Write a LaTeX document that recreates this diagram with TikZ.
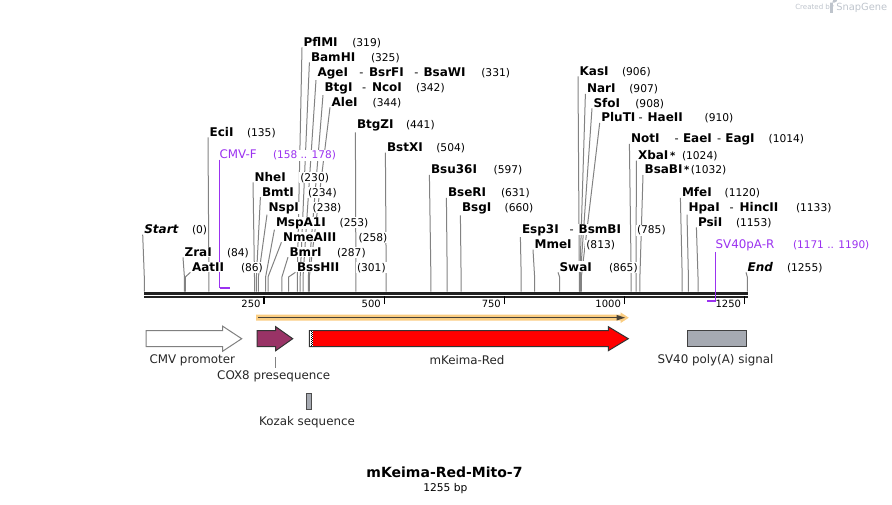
\documentclass[tikz,border=0pt]{standalone}
\usepackage{fontspec}
\setmainfont{DejaVu Sans}
\usetikzlibrary{arrows.meta}
\pgfdeclarelayer{bg}
\pgfsetlayers{bg,main}
\definecolor{cutgray}{RGB}{130,130,130}
\definecolor{primer}{RGB}{155,50,240}
\definecolor{orf}{RGB}{250,205,130}
\definecolor{orfdark}{RGB}{70,64,56}
\definecolor{cox}{RGB}{153,51,102}
\definecolor{polya}{RGB}{166,170,178}
\definecolor{bbone}{RGB}{34,34,34}
\definecolor{featline}{RGB}{51,51,51}
\definecolor{wm}{RGB}{190,196,204}
\tikzset{
  nm/.style={anchor=base west, inner xsep=1pt, inner ysep=0.6pt, fill=white, font=\fontsize{9}{10}\selectfont\bfseries},
  num/.style={anchor=base west, inner xsep=1pt, inner ysep=0.6pt, fill=white, font=\fontsize{8}{9}\selectfont},
  hyph/.style={anchor=base west, inner xsep=1pt, inner ysep=0.6pt, fill=white, font=\fontsize{8.5}{9}\selectfont},
  cut/.style={draw=cutgray, line width=0.75pt},
  feat/.style={draw=featline, line width=0.75pt},
  flabel/.style={inner sep=0pt, text=black!85, font=\fontsize{8.9}{10}\selectfont},
  plabel/.style={anchor=base west, inner xsep=1pt, inner ysep=0.6pt, fill=white, text=primer, font=\fontsize{8.9}{10}\selectfont},
  pnum/.style={anchor=base west, inner xsep=1pt, inner ysep=0.6pt, fill=white, text=primer, font=\fontsize{7.9}{9}\selectfont},
  ticklab/.style={anchor=east, inner sep=0pt, font=\fontsize{7.5}{9}\selectfont},
}
\newcommand{\astk}{\hspace{1.2pt}{\fontsize{7.6}{9}\selectfont *}}
% id, label x, label centre y, name, number x, number
\newcommand{\enz}[6]{\node[nm] (#1) at (#2-1.3,#3+4.4) {#4};\node[num] (#1n) at (#5-1.3,#3+4.4) {#6};}
% id, x, name, centre y
\newcommand{\xname}[4]{\node[nm] (#1) at (#2-1.3,#4+4.4) {#3};}
% id, x, centre y
\newcommand{\hy}[3]{\node[hyph] (#1) at (#2-1.3,#3+4.4) {-};}
% id, site x
\newcommand{\cutl}[2]{\draw[cut] (#2,291.5) -- (#2,277) -- (#1.south west);}
\begin{document}
\begin{tikzpicture}[x=0.75pt,y=-0.75pt]
\useasboundingbox (0,0) rectangle (892,504);

% ---------------- restriction site labels
\node[nm, font=\fontsize{9}{10}\selectfont\bfseries\itshape] (st) at (144-1.3,229+4.4) {Start};
\node[num] (stn) at (191.7-1.3,229+4.4) {(0)};
\enz{zra}{184.3}{251.7}{ZraI}{226.7}{(84)}
\enz{aat}{191.7}{266.7}{AatII}{240.7}{(86)}
\enz{eci}{209.3}{131.7}{EciI}{246.7}{(135)}
\enz{nhe}{254.3}{176.7}{NheI}{300}{(230)}
\enz{bmt}{261.7}{191.7}{BmtI}{307.7}{(234)}
\enz{nsp}{268.3}{206.7}{NspI}{312.3}{(238)}
\enz{msp}{275.7}{221.7}{MspA1I}{339.3}{(253)}
\enz{nme}{282.7}{236.7}{NmeAIII}{358.3}{(258)}
\enz{bmr}{289.3}{251.7}{BmrI}{336.7}{(287)}
\enz{bss}{296.7}{266.7}{BssHII}{356.7}{(301)}
\enz{pfl}{303.3}{42}{PflMI}{352}{(319)}
\enz{bam}{310.7}{56.7}{BamHI}{370.7}{(325)}
\enz{age}{317.3}{72}{AgeI}{481}{(331)}
\hy{ageh1}{359}{72}\xname{bsrf}{368.7}{BsrFI}{72}
\hy{ageh2}{414}{72}\xname{bsaw}{423.3}{BsaWI}{72}
\enz{btg}{324.3}{87}{BtgI}{415.7}{(342)}
\hy{btgh}{361.7}{87}\xname{nco}{371.7}{NcoI}{87}
\enz{ale}{331.3}{101.7}{AleI}{372.3}{(344)}
\enz{btgz}{356.7}{124.3}{BtgZI}{405.7}{(441)}
\enz{bstx}{386.7}{147}{BstXI}{436}{(504)}
\enz{bsu}{430.7}{169.3}{Bsu36I}{493.3}{(597)}
\enz{bser}{447.7}{192.3}{BseRI}{500.7}{(631)}
\enz{bsg}{461.7}{207.3}{BsgI}{504.3}{(660)}
\enz{esp}{521.7}{229.2}{Esp3I}{636.7}{(785)}
\hy{esph}{569.3}{229.2}\xname{bsmb}{578.3}{BsmBI}{229.2}
\enz{mme}{534.3}{244}{MmeI}{586}{(813)}
\enz{swa}{559.3}{266.7}{SwaI}{608.7}{(865)}
\enz{kas}{579.3}{70.7}{KasI}{621.7}{(906)}
\enz{nar}{586.7}{88.3}{NarI}{629}{(907)}
\enz{sfo}{593.3}{102.7}{SfoI}{635}{(908)}
\enz{plu}{601}{117.3}{PluTI}{704.3}{(910)}
\hy{pluh}{638.3}{117.3}\xname{hae}{647.3}{HaeII}{117.3}
\enz{not}{630.7}{138.3}{NotI}{768.3}{(1014)}
\hy{noth1}{674.3}{138.3}\xname{eae}{682.7}{EaeI}{138.3}
\hy{noth2}{716.7}{138.3}\xname{eag}{725}{EagI}{138.3}
\enz{xba}{637.7}{155}{XbaI\astk}{681.7}{(1024)}
\enz{bsab}{644.3}{169.3}{BsaBI\astk}{690.5}{(1032)}
\enz{mfe}{681.7}{192.3}{MfeI}{724.3}{(1120)}
\enz{hpa}{688.3}{206.7}{HpaI}{795.7}{(1133)}
\hy{hpah}{729.3}{206.7}\xname{hinc}{739.3}{HincII}{206.7}
\enz{psi}{697.7}{221.7}{PsiI}{735.7}{(1153)}
\node[nm, font=\fontsize{9}{10}\selectfont\bfseries\itshape] (en) at (747.3-1.3,266.7+4.4) {End};
\node[num] (enn) at (786.7-1.3,266.7+4.4) {(1255)};

% primer labels
\node[plabel] (cmvf) at (219.3-1.3,154+4.4) {CMV-F};
\node[pnum] (cmvfn) at (272.7-1.3,154+4.4) {(158 .. 178)};
\node[plabel] (svr) at (715.3-1.3,244+4.4) {SV40pA-R};
\node[pnum] (svrn) at (792.7-1.3,244+4.4) {(1171 .. 1190)};

% ---------------- connector lines (behind labels)
\begin{pgfonlayer}{bg}
\cutl{st}{144.3}
\cutl{zra}{184.4}
\cutl{aat}{185.3}
\cutl{eci}{208.9}
\cutl{nhe}{254.5}
\cutl{bmt}{256.4}
\cutl{nsp}{258.4}
\cutl{msp}{265.6}
\cutl{nme}{268.0}
\cutl{bmr}{281.9}
\cutl{bss}{288.6}
\cutl{pfl}{297.3}
\cutl{bam}{300.2}
\cutl{age}{303.0}
\cutl{btg}{308.3}
\cutl{ale}{309.3}
\cutl{btgz}{355.9}
\cutl{bstx}{386.2}
\cutl{bsu}{430.9}
\cutl{bser}{447.2}
\cutl{bsg}{461.1}
\cutl{esp}{521.2}
\cutl{mme}{534.6}
\cutl{swa}{559.6}
\cutl{kas}{579.3}
\cutl{nar}{579.8}
\cutl{sfo}{580.3}
\cutl{plu}{581.3}
\cutl{not}{631.2}
\cutl{xba}{636.0}
\cutl{bsab}{639.9}
\cutl{mfe}{682.2}
\cutl{hpa}{688.4}
\cutl{psi}{698.0}
\cutl{en}{747.3}
% CMV-F primer
\coordinate (cmvfB) at (219.5,288);
\coordinate (cmvfE) at (229.8,288);
\draw[primer, line width=0.9pt] (cmvfB |- cmvf.south) -- (cmvfB);
\draw[primer, line width=1.5pt] (cmvfB) -- (cmvfE);
\end{pgfonlayer}

% ---------------- backbone
\draw[bbone, line width=2.25pt] (144,293.2) -- (748,293.2);
\draw[bbone, line width=1.5pt] (144,296.6) -- (748,296.6);
\foreach \v/\t in {264.1/250,384.3/500,504.4/750,624.5/1000,744.6/1250}{
  \draw[black, line width=1.2pt] (\v,296) -- (\v,303.8);
  \node[ticklab] (tick\t) at (\v-3.3,304) {\t};
}

% SV40pA-R primer (reverse, below backbone)
\coordinate (svrB) at (715.5,300.7);
\coordinate (svrE) at (706.5,300.7);
\draw[primer, line width=0.9pt] (svrB |- svr.south) -- (svrB);
\draw[primer, line width=1.5pt] (svrB) -- (svrE);

% ---------------- ORF arrow
\fill[orf] (256,314.7) -- (620.5,314.7) -- (620.5,312.3) -- (628.8,317.7) -- (620.5,323.1) -- (620.5,320.7) -- (256,320.7) -- cycle;
\draw[orfdark, line width=1.1pt] (258,317.7) -- (618,317.7);
\fill[orfdark] (616.5,314.9) -- (625,317.7) -- (616.5,320.5) -- cycle;

% ---------------- features
\draw[draw=black!50, fill=white, line width=0.75pt] (146,330.7) -- (222.7,330.7) -- (222.7,326.2) -- (241.7,338.7) -- (222.7,351.2) -- (222.7,346.7) -- (146,346.7) -- cycle;
\draw[feat, fill=cox] (257,330.7) -- (275.7,330.7) -- (275.7,326.7) -- (292.7,338.7) -- (275.7,350.7) -- (275.7,346.7) -- (257,346.7) -- cycle;
\draw[feat, fill=red] (309.3,330.7) -- (608.3,330.7) -- (608.3,326.7) -- (628.3,338.7) -- (608.3,350.7) -- (608.3,346.7) -- (309.3,346.7) -- cycle;
\fill[white] (310.4,331.3) rectangle (313.3,346.1);
\draw[black, line width=0.6pt, dash pattern=on 0.75pt off 0.75pt] (311.1,331.3) -- (311.1,346.1);
\draw[black, line width=0.6pt, dash pattern=on 0.75pt off 0.75pt, dash phase=0.75pt] (312.6,331.3) -- (312.6,346.1);
\draw[draw=black!70, fill=polya, line width=0.75pt] (306.7,393.3) rectangle (311,409.3);
\draw[draw=black!75, fill=polya, line width=0.75pt] (687.3,330.7) rectangle (746.7,346.7);

\node[flabel] (cmvl) at (192.3,360) {CMV promoter};
\node[flabel] (keil) at (467,360) {mKeima-Red};
\node[flabel] (svl) at (715.5,360) {SV40 poly(A) signal};
\node[flabel] (coxl) at (273.7,376) {COX8 presequence};
\node[flabel] (kozl) at (307,422.7) {Kozak sequence};
\draw[cutgray, line width=0.75pt] (275.7,357.3) -- (275.7,368.3);

% ---------------- title
\node[inner sep=0pt, font=\fontsize{10.5}{12}\selectfont\bfseries] (title) at (444.5,472) {mKeima-Red-Mito-7};
\node[inner sep=0pt, font=\fontsize{8}{9}\selectfont] (len) at (445.3,488.5) {1255 bp};

% ---------------- watermark
\node[anchor=west, inner sep=0pt, text=wm, font=\fontsize{5.3}{6}\selectfont] (wm1) at (795,7.8) {Created by};
\fill[wm] (830,2.5) rectangle (833.3,12.5);
\fill[wm] (830,2.5) -- (834.5,2.5) arc (90:-90:2.6) -- (830,7.7) -- cycle;
\node[anchor=west, inner sep=0pt, text=wm, font=\fontsize{7.4}{8}\selectfont] (wm2) at (836,7.5) {SnapGene};
\end{tikzpicture}
\end{document}
